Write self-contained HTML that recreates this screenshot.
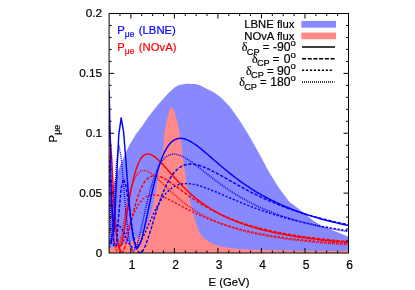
<!DOCTYPE html>
<html><head><meta charset="utf-8"><style>
html,body{margin:0;padding:0;background:#fff;}
svg{display:block;will-change:transform;opacity:0.999;font-family:"Liberation Sans",sans-serif;font-size:11.3px;}
</style></head><body>
<svg width="415" height="290" viewBox="0 0 415 290">
<rect width="415" height="290" fill="#fff"/>
<defs><clipPath id="c"><rect x="109.1" y="13.5" width="239.4" height="239.5"/></clipPath></defs>
<g clip-path="url(#c)">
<path d="M109.1,253.0 L109,200 L111.5,191 L114.3,181 L120.5,164.5 L127,150 L129.5,145 L136.1,134.1 L143.3,124.5 L148,117.5 L154.5,109 L161.7,100.4 L169,92.4 L174.8,87.3 L179.1,84.9 L186.4,83.8 L195,84 L200,85.3 L206,88.4 L213.8,92.2 L221.5,98 L229.7,106.6 L239.3,120.1 L249,135.6 L257.7,151 L259.3,153.7 L269,172 L278.6,187.5 L289.3,201.7 L294.3,205.4 L304,213.1 L313.6,220.7 L323.3,226.7 L333,230.5 L342.6,234.3 L348.5,236.7 L348.5,253.0 Z" fill="#8888ff" stroke="none"/>
<path d="M109.1,253.0 L109,247.8 L120,245.8 L130,242.3 L138,237.8 L144,231 L147,224 L150.5,215 L153,206 L155,196 L157.7,180 L159.3,169 L161.6,156 L163.2,150 L164.2,135 L167,119 L170.5,107 L173.8,109.7 L177.3,121.3 L180.5,138.6 L182.4,153 L184.6,169.3 L187.4,188.6 L189.7,200 L192.6,211.6 L195.5,221.3 L199.3,232.5 L205.1,239.2 L212.9,244.1 L222.5,247.0 L238,248.9 L260,249.9 L300,250.7 L348.5,251.0 L348.5,253.0 Z" fill="#ff8888" stroke="none"/>
<path d="M109.10,123.07 L111.52,155.30 L113.94,202.07 L116.35,234.53 L118.77,247.32 L121.19,245.07 L123.61,234.13 L126.03,219.55 L128.45,204.57 L130.86,190.97 L133.28,179.53 L135.70,170.48 L138.12,163.71 L140.54,158.97 L142.95,155.94 L145.37,154.34 L147.79,153.88 L150.21,154.32 L152.63,155.46 L155.05,157.12 L157.46,159.16 L159.88,161.49 L162.30,164.00 L164.72,166.64 L167.14,169.34 L169.55,172.07 L171.97,174.79 L174.39,177.47 L176.81,180.11 L179.23,182.68 L181.65,185.18 L184.06,187.60 L186.48,189.94 L188.90,192.19 L191.32,194.35 L193.74,196.43 L196.15,198.43 L198.57,200.34 L200.99,202.17 L203.41,203.93 L205.83,205.61 L208.25,207.21 L210.66,208.75 L213.08,210.22 L215.50,211.63 L217.92,212.98 L220.34,214.27 L222.75,215.50 L225.17,216.68 L227.59,217.81 L230.01,218.90 L232.43,219.94 L234.85,220.93 L237.26,221.88 L239.68,222.80 L242.10,223.68 L244.52,224.52 L246.94,225.33 L249.35,226.11 L251.77,226.85 L254.19,227.57 L256.61,228.26 L259.03,228.93 L261.45,229.56 L263.86,230.18 L266.28,230.77 L268.70,231.34 L271.12,231.89 L273.54,232.42 L275.95,232.93 L278.37,233.42 L280.79,233.90 L283.21,234.36 L285.63,234.80 L288.05,235.23 L290.46,235.64 L292.88,236.04 L295.30,236.43 L297.72,236.81 L300.14,237.17 L302.55,237.52 L304.97,237.86 L307.39,238.18 L309.81,238.50 L312.23,238.81 L314.65,239.11 L317.06,239.40 L319.48,239.68 L321.90,239.95 L324.32,240.22 L326.74,240.47 L329.15,240.72 L331.57,240.97 L333.99,241.20 L336.41,241.43 L338.83,241.65 L341.25,241.87 L343.66,242.08 L346.08,242.28 L348.50,242.48" fill="none" stroke="#ff0000" stroke-width="1.45" stroke-linejoin="round"/>
<path d="M109.10,183.10 L111.52,179.45 L113.94,202.72 L116.35,228.96 L118.77,246.31 L121.19,252.80 L123.61,250.75 L126.03,243.36 L128.45,233.36 L130.86,222.68 L133.28,212.47 L135.70,203.39 L138.12,195.70 L140.54,189.46 L142.95,184.59 L145.37,180.95 L147.79,178.40 L150.21,176.76 L152.63,175.88 L155.05,175.64 L157.46,175.90 L159.88,176.57 L162.30,177.56 L164.72,178.79 L167.14,180.22 L169.55,181.78 L171.97,183.44 L174.39,185.17 L176.81,186.94 L179.23,188.73 L181.65,190.52 L184.06,192.31 L186.48,194.06 L188.90,195.79 L191.32,197.49 L193.74,199.14 L196.15,200.75 L198.57,202.32 L200.99,203.84 L203.41,205.31 L205.83,206.73 L208.25,208.11 L210.66,209.44 L213.08,210.72 L215.50,211.96 L217.92,213.15 L220.34,214.30 L222.75,215.41 L225.17,216.48 L227.59,217.51 L230.01,218.50 L232.43,219.46 L234.85,220.38 L237.26,221.27 L239.68,222.12 L242.10,222.95 L244.52,223.74 L246.94,224.51 L249.35,225.25 L251.77,225.96 L254.19,226.65 L256.61,227.31 L259.03,227.95 L261.45,228.57 L263.86,229.17 L266.28,229.74 L268.70,230.30 L271.12,230.84 L273.54,231.36 L275.95,231.87 L278.37,232.35 L280.79,232.82 L283.21,233.28 L285.63,233.72 L288.05,234.15 L290.46,234.56 L292.88,234.97 L295.30,235.35 L297.72,235.73 L300.14,236.10 L302.55,236.45 L304.97,236.79 L307.39,237.13 L309.81,237.45 L312.23,237.77 L314.65,238.07 L317.06,238.37 L319.48,238.65 L321.90,238.93 L324.32,239.21 L326.74,239.47 L329.15,239.73 L331.57,239.98 L333.99,240.22 L336.41,240.46 L338.83,240.69 L341.25,240.91 L343.66,241.13 L346.08,241.34 L348.50,241.55" fill="none" stroke="#ff0000" stroke-width="1.45" stroke-linejoin="round" stroke-dasharray="3.3 1.6"/>
<path d="M109.10,230.99 L111.52,234.52 L113.94,240.92 L116.35,246.04 L118.77,247.60 L121.19,245.49 L123.61,240.67 L126.03,234.33 L128.45,227.46 L130.86,220.78 L133.28,214.71 L135.70,209.46 L138.12,205.11 L140.54,201.64 L142.95,199.00 L145.37,197.09 L147.79,195.81 L150.21,195.07 L152.63,194.78 L155.05,194.86 L157.46,195.24 L159.88,195.87 L162.30,196.69 L164.72,197.65 L167.14,198.72 L169.55,199.88 L171.97,201.10 L174.39,202.36 L176.81,203.64 L179.23,204.92 L181.65,206.21 L184.06,207.49 L186.48,208.75 L188.90,210.00 L191.32,211.21 L193.74,212.40 L196.15,213.56 L198.57,214.69 L200.99,215.79 L203.41,216.85 L205.83,217.88 L208.25,218.88 L210.66,219.84 L213.08,220.78 L215.50,221.68 L217.92,222.55 L220.34,223.39 L222.75,224.20 L225.17,224.99 L227.59,225.74 L230.01,226.47 L232.43,227.18 L234.85,227.86 L237.26,228.51 L239.68,229.15 L242.10,229.76 L244.52,230.35 L246.94,230.92 L249.35,231.47 L251.77,232.00 L254.19,232.51 L256.61,233.01 L259.03,233.49 L261.45,233.96 L263.86,234.40 L266.28,234.84 L268.70,235.26 L271.12,235.66 L273.54,236.06 L275.95,236.44 L278.37,236.81 L280.79,237.16 L283.21,237.51 L285.63,237.85 L288.05,238.17 L290.46,238.49 L292.88,238.79 L295.30,239.09 L297.72,239.38 L300.14,239.65 L302.55,239.93 L304.97,240.19 L307.39,240.44 L309.81,240.69 L312.23,240.93 L314.65,241.17 L317.06,241.39 L319.48,241.62 L321.90,241.83 L324.32,242.04 L326.74,242.24 L329.15,242.44 L331.57,242.64 L333.99,242.82 L336.41,243.01 L338.83,243.19 L341.25,243.36 L343.66,243.53 L346.08,243.69 L348.50,243.85" fill="none" stroke="#ff0000" stroke-width="1.45" stroke-linejoin="round" stroke-dasharray="2.1 1.8"/>
<path d="M109.10,170.97 L111.52,210.37 L113.94,240.27 L116.35,251.62 L118.77,248.61 L121.19,237.76 L123.61,224.05 L126.03,210.52 L128.45,198.68 L130.86,189.07 L133.28,181.77 L135.70,176.55 L138.12,173.11 L140.54,171.15 L142.95,170.35 L145.37,170.47 L147.79,171.29 L150.21,172.63 L152.63,174.35 L155.05,176.34 L157.46,178.51 L159.88,180.79 L162.30,183.13 L164.72,185.50 L167.14,187.85 L169.55,190.17 L171.97,192.44 L174.39,194.65 L176.81,196.80 L179.23,198.87 L181.65,200.87 L184.06,202.78 L186.48,204.62 L188.90,206.39 L191.32,208.08 L193.74,209.69 L196.15,211.24 L198.57,212.71 L200.99,214.12 L203.41,215.47 L205.83,216.75 L208.25,217.98 L210.66,219.16 L213.08,220.28 L215.50,221.35 L217.92,222.37 L220.34,223.35 L222.75,224.29 L225.17,225.19 L227.59,226.05 L230.01,226.87 L232.43,227.65 L234.85,228.41 L237.26,229.13 L239.68,229.83 L242.10,230.49 L244.52,231.13 L246.94,231.74 L249.35,232.33 L251.77,232.90 L254.19,233.44 L256.61,233.96 L259.03,234.47 L261.45,234.95 L263.86,235.42 L266.28,235.86 L268.70,236.30 L271.12,236.71 L273.54,237.12 L275.95,237.50 L278.37,237.88 L280.79,238.24 L283.21,238.59 L285.63,238.93 L288.05,239.25 L290.46,239.57 L292.88,239.87 L295.30,240.16 L297.72,240.45 L300.14,240.72 L302.55,240.99 L304.97,241.25 L307.39,241.50 L309.81,241.74 L312.23,241.98 L314.65,242.21 L317.06,242.43 L319.48,242.64 L321.90,242.85 L324.32,243.05 L326.74,243.25 L329.15,243.44 L331.57,243.62 L333.99,243.80 L336.41,243.98 L338.83,244.15 L341.25,244.31 L343.66,244.48 L346.08,244.63 L348.50,244.78" fill="none" stroke="#ff0000" stroke-width="1.45" stroke-linejoin="round" stroke-dasharray="1 1"/>
<path d="M109.10,89.65 L111.52,199.89 L113.94,231.93 L116.35,184.92 L118.77,134.71 L121.19,117.85 L123.61,132.22 L126.03,162.46 L128.45,194.79 L130.86,221.15 L133.28,238.46 L135.70,246.73 L138.12,247.47 L140.54,242.66 L142.95,234.20 L145.37,223.65 L147.79,212.23 L150.21,200.80 L152.63,189.93 L155.05,179.98 L157.46,171.13 L159.88,163.47 L162.30,156.99 L164.72,151.65 L167.14,147.36 L169.55,144.03 L171.97,141.57 L174.39,139.86 L176.81,138.81 L179.23,138.34 L181.65,138.35 L184.06,138.79 L186.48,139.58 L188.90,140.66 L191.32,141.99 L193.74,143.51 L196.15,145.20 L198.57,147.01 L200.99,148.92 L203.41,150.90 L205.83,152.94 L208.25,155.01 L210.66,157.11 L213.08,159.21 L215.50,161.31 L217.92,163.39 L220.34,165.46 L222.75,167.51 L225.17,169.52 L227.59,171.50 L230.01,173.44 L232.43,175.34 L234.85,177.21 L237.26,179.03 L239.68,180.80 L242.10,182.54 L244.52,184.23 L246.94,185.87 L249.35,187.47 L251.77,189.03 L254.19,190.55 L256.61,192.02 L259.03,193.45 L261.45,194.84 L263.86,196.19 L266.28,197.50 L268.70,198.78 L271.12,200.02 L273.54,201.22 L275.95,202.39 L278.37,203.52 L280.79,204.62 L283.21,205.69 L285.63,206.73 L288.05,207.74 L290.46,208.71 L292.88,209.66 L295.30,210.59 L297.72,211.48 L300.14,212.36 L302.55,213.20 L304.97,214.03 L307.39,214.83 L309.81,215.60 L312.23,216.36 L314.65,217.09 L317.06,217.81 L319.48,218.50 L321.90,219.18 L324.32,219.84 L326.74,220.48 L329.15,221.10 L331.57,221.71 L333.99,222.30 L336.41,222.87 L338.83,223.43 L341.25,223.98 L343.66,224.51 L346.08,225.03 L348.50,225.53" fill="none" stroke="#0000ff" stroke-width="1.45" stroke-linejoin="round"/>
<path d="M109.10,159.83 L111.52,194.59 L113.94,246.36 L116.35,245.62 L118.77,214.78 L121.19,187.94 L123.61,178.97 L126.03,186.06 L128.45,201.89 L130.86,219.66 L133.28,234.97 L135.70,245.76 L138.12,251.58 L140.54,252.93 L142.95,250.67 L145.37,245.78 L147.79,239.16 L150.21,231.55 L152.63,223.54 L155.05,215.55 L157.46,207.88 L159.88,200.74 L162.30,194.24 L164.72,188.44 L167.14,183.36 L169.55,178.98 L171.97,175.28 L174.39,172.21 L176.81,169.72 L179.23,167.76 L181.65,166.27 L184.06,165.21 L186.48,164.52 L188.90,164.16 L191.32,164.09 L193.74,164.28 L196.15,164.67 L198.57,165.26 L200.99,166.00 L203.41,166.88 L205.83,167.87 L208.25,168.95 L210.66,170.10 L213.08,171.32 L215.50,172.59 L217.92,173.90 L220.34,175.24 L222.75,176.59 L225.17,177.96 L227.59,179.33 L230.01,180.71 L232.43,182.08 L234.85,183.44 L237.26,184.79 L239.68,186.13 L242.10,187.45 L244.52,188.76 L246.94,190.04 L249.35,191.30 L251.77,192.54 L254.19,193.76 L256.61,194.96 L259.03,196.13 L261.45,197.27 L263.86,198.40 L266.28,199.49 L268.70,200.57 L271.12,201.62 L273.54,202.64 L275.95,203.64 L278.37,204.62 L280.79,205.57 L283.21,206.50 L285.63,207.41 L288.05,208.30 L290.46,209.17 L292.88,210.01 L295.30,210.84 L297.72,211.64 L300.14,212.42 L302.55,213.19 L304.97,213.94 L307.39,214.66 L309.81,215.37 L312.23,216.07 L314.65,216.74 L317.06,217.40 L319.48,218.04 L321.90,218.67 L324.32,219.29 L326.74,219.88 L329.15,220.47 L331.57,221.04 L333.99,221.59 L336.41,222.13 L338.83,222.66 L341.25,223.18 L343.66,223.69 L346.08,224.18 L348.50,224.66" fill="none" stroke="#0000ff" stroke-width="1.45" stroke-linejoin="round" stroke-dasharray="3.3 1.6"/>
<path d="M109.10,248.11 L111.52,238.54 L113.94,228.99 L116.35,225.45 L118.77,225.31 L121.19,227.68 L123.61,232.07 L126.03,237.43 L128.45,242.45 L130.86,246.09 L133.28,247.80 L135.70,247.49 L138.12,245.37 L140.54,241.80 L142.95,237.21 L145.37,231.98 L147.79,226.46 L150.21,220.92 L152.63,215.55 L155.05,210.51 L157.46,205.87 L159.88,201.70 L162.30,198.01 L164.72,194.81 L167.14,192.08 L169.55,189.80 L171.97,187.93 L174.39,186.45 L176.81,185.31 L179.23,184.48 L181.65,183.93 L184.06,183.63 L186.48,183.55 L188.90,183.65 L191.32,183.92 L193.74,184.34 L196.15,184.87 L198.57,185.51 L200.99,186.24 L203.41,187.04 L205.83,187.90 L208.25,188.81 L210.66,189.76 L213.08,190.74 L215.50,191.75 L217.92,192.78 L220.34,193.81 L222.75,194.85 L225.17,195.90 L227.59,196.95 L230.01,197.99 L232.43,199.02 L234.85,200.05 L237.26,201.06 L239.68,202.06 L242.10,203.05 L244.52,204.02 L246.94,204.98 L249.35,205.92 L251.77,206.84 L254.19,207.75 L256.61,208.63 L259.03,209.50 L261.45,210.36 L263.86,211.19 L266.28,212.00 L268.70,212.80 L271.12,213.58 L273.54,214.34 L275.95,215.09 L278.37,215.81 L280.79,216.52 L283.21,217.22 L285.63,217.89 L288.05,218.56 L290.46,219.20 L292.88,219.83 L295.30,220.45 L297.72,221.05 L300.14,221.63 L302.55,222.20 L304.97,222.76 L307.39,223.31 L309.81,223.84 L312.23,224.36 L314.65,224.87 L317.06,225.36 L319.48,225.84 L321.90,226.32 L324.32,226.78 L326.74,227.23 L329.15,227.67 L331.57,228.10 L333.99,228.51 L336.41,228.92 L338.83,229.32 L341.25,229.72 L343.66,230.10 L346.08,230.47 L348.50,230.84" fill="none" stroke="#0000ff" stroke-width="1.45" stroke-linejoin="round" stroke-dasharray="2.1 1.8"/>
<path d="M109.10,177.93 L111.52,243.84 L113.94,214.56 L116.35,164.75 L118.77,145.24 L121.19,157.59 L123.61,185.32 L126.03,213.83 L128.45,235.35 L130.86,247.58 L133.28,251.29 L135.70,248.46 L138.12,241.26 L140.54,231.54 L142.95,220.74 L145.37,209.85 L147.79,199.53 L150.21,190.17 L152.63,181.95 L155.05,174.94 L157.46,169.13 L159.88,164.44 L162.30,160.77 L164.72,158.03 L167.14,156.09 L169.55,154.85 L171.97,154.22 L174.39,154.09 L176.81,154.40 L179.23,155.06 L181.65,156.02 L184.06,157.22 L186.48,158.61 L188.90,160.15 L191.32,161.82 L193.74,163.57 L196.15,165.39 L198.57,167.26 L200.99,169.16 L203.41,171.06 L205.83,172.97 L208.25,174.88 L210.66,176.76 L213.08,178.63 L215.50,180.46 L217.92,182.27 L220.34,184.04 L222.75,185.77 L225.17,187.46 L227.59,189.11 L230.01,190.72 L232.43,192.29 L234.85,193.81 L237.26,195.29 L239.68,196.73 L242.10,198.13 L244.52,199.49 L246.94,200.81 L249.35,202.09 L251.77,203.33 L254.19,204.53 L256.61,205.70 L259.03,206.83 L261.45,207.92 L263.86,208.99 L266.28,210.02 L268.70,211.01 L271.12,211.98 L273.54,212.92 L275.95,213.83 L278.37,214.72 L280.79,215.57 L283.21,216.40 L285.63,217.21 L288.05,217.99 L290.46,218.75 L292.88,219.48 L295.30,220.20 L297.72,220.89 L300.14,221.56 L302.55,222.22 L304.97,222.85 L307.39,223.47 L309.81,224.07 L312.23,224.65 L314.65,225.22 L317.06,225.77 L319.48,226.30 L321.90,226.82 L324.32,227.33 L326.74,227.82 L329.15,228.30 L331.57,228.77 L333.99,229.22 L336.41,229.66 L338.83,230.09 L341.25,230.51 L343.66,230.92 L346.08,231.32 L348.50,231.70" fill="none" stroke="#0000ff" stroke-width="1.45" stroke-linejoin="round" stroke-dasharray="1 1"/>
</g>
<g stroke="#000" stroke-width="1" fill="none">
<path d="M119.98,253.0 v-2.5 M119.98,13.5 v2.5"/>
<path d="M130.86,253.0 v-5 M130.86,13.5 v5"/>
<path d="M141.75,253.0 v-2.5 M141.75,13.5 v2.5"/>
<path d="M152.63,253.0 v-2.5 M152.63,13.5 v2.5"/>
<path d="M163.51,253.0 v-2.5 M163.51,13.5 v2.5"/>
<path d="M174.39,253.0 v-5 M174.39,13.5 v5"/>
<path d="M185.27,253.0 v-2.5 M185.27,13.5 v2.5"/>
<path d="M196.15,253.0 v-2.5 M196.15,13.5 v2.5"/>
<path d="M207.04,253.0 v-2.5 M207.04,13.5 v2.5"/>
<path d="M217.92,253.0 v-5 M217.92,13.5 v5"/>
<path d="M228.80,253.0 v-2.5 M228.80,13.5 v2.5"/>
<path d="M239.68,253.0 v-2.5 M239.68,13.5 v2.5"/>
<path d="M250.56,253.0 v-2.5 M250.56,13.5 v2.5"/>
<path d="M261.45,253.0 v-5 M261.45,13.5 v5"/>
<path d="M272.33,253.0 v-2.5 M272.33,13.5 v2.5"/>
<path d="M283.21,253.0 v-2.5 M283.21,13.5 v2.5"/>
<path d="M294.09,253.0 v-2.5 M294.09,13.5 v2.5"/>
<path d="M304.97,253.0 v-5 M304.97,13.5 v5"/>
<path d="M315.85,253.0 v-2.5 M315.85,13.5 v2.5"/>
<path d="M326.74,253.0 v-2.5 M326.74,13.5 v2.5"/>
<path d="M337.62,253.0 v-2.5 M337.62,13.5 v2.5"/>
<path d="M109.1,241.03 h2.5 M348.5,241.03 h-2.5"/>
<path d="M109.1,229.05 h2.5 M348.5,229.05 h-2.5"/>
<path d="M109.1,217.07 h2.5 M348.5,217.07 h-2.5"/>
<path d="M109.1,205.10 h2.5 M348.5,205.10 h-2.5"/>
<path d="M109.1,193.12 h5 M348.5,193.12 h-5"/>
<path d="M109.1,181.15 h2.5 M348.5,181.15 h-2.5"/>
<path d="M109.1,169.18 h2.5 M348.5,169.18 h-2.5"/>
<path d="M109.1,157.20 h2.5 M348.5,157.20 h-2.5"/>
<path d="M109.1,145.23 h2.5 M348.5,145.23 h-2.5"/>
<path d="M109.1,133.25 h5 M348.5,133.25 h-5"/>
<path d="M109.1,121.28 h2.5 M348.5,121.28 h-2.5"/>
<path d="M109.1,109.30 h2.5 M348.5,109.30 h-2.5"/>
<path d="M109.1,97.32 h2.5 M348.5,97.32 h-2.5"/>
<path d="M109.1,85.35 h2.5 M348.5,85.35 h-2.5"/>
<path d="M109.1,73.38 h5 M348.5,73.38 h-5"/>
<path d="M109.1,61.40 h2.5 M348.5,61.40 h-2.5"/>
<path d="M109.1,49.43 h2.5 M348.5,49.43 h-2.5"/>
<path d="M109.1,37.45 h2.5 M348.5,37.45 h-2.5"/>
<path d="M109.1,25.48 h2.5 M348.5,25.48 h-2.5"/>
<rect x="109.1" y="13.5" width="239.4" height="239.5"/>
</g>
<g fill="#000" stroke="#000" stroke-width="0.2">
<text x="132.1" y="268.8" text-anchor="middle" font-size="12">1</text>
<text x="175.6" y="268.8" text-anchor="middle" font-size="12">2</text>
<text x="219.1" y="268.8" text-anchor="middle" font-size="12">3</text>
<text x="262.6" y="268.8" text-anchor="middle" font-size="12">4</text>
<text x="306.2" y="268.8" text-anchor="middle" font-size="12">5</text>
<text x="349.7" y="268.8" text-anchor="middle" font-size="12">6</text>
<text x="102.2" y="256.6" text-anchor="end" font-size="11.8">0</text>
<text x="102.2" y="196.7" text-anchor="end" font-size="11.8">0.05</text>
<text x="102.2" y="136.8" text-anchor="end" font-size="11.8">0.1</text>
<text x="102.2" y="77.0" text-anchor="end" font-size="11.8">0.15</text>
<text x="102.2" y="17.1" text-anchor="end" font-size="11.8">0.2</text>
<text x="229" y="286" text-anchor="middle">E (GeV)</text>
<text transform="translate(57,133.5) rotate(-90)" text-anchor="middle">P<tspan dy="3" font-size="9">μe</tspan></text>
<text x="294.5" y="28.299999999999997" text-anchor="end">LBNE flux</text><rect x="301.4" y="20.9" width="34.6" height="6.8" fill="#8888ff" stroke="none"/>
<text x="294.5" y="39.9" text-anchor="end">NOvA flux</text><rect x="301.4" y="32.5" width="34.6" height="6.8" fill="#ff8888" stroke="none"/>
<text x="241.8" y="51.300000000000004" font-family="Liberation Serif" font-size="12">δ</text><text x="246.8" y="54.800000000000004" font-size="9.2">CP</text><text x="262.7" y="51.300000000000004" font-size="11.3">=</text><text x="290.6" y="51.300000000000004" font-size="12.2" text-anchor="end">-90</text><text x="290.6" y="46.00000000000001" font-size="9.6">o</text>
<path d="M302,47.1 H335" stroke="#000" stroke-width="1.5" fill="none"/>
<text x="251.9" y="62.900000000000006" font-family="Liberation Serif" font-size="12">δ</text><text x="256.9" y="66.4" font-size="9.2">CP</text><text x="272.8" y="62.900000000000006" font-size="11.3">=</text><text x="290.6" y="62.900000000000006" font-size="12.2" text-anchor="end">0</text><text x="290.6" y="57.60000000000001" font-size="9.6">o</text>
<path d="M302,58.7 H335" stroke="#000" stroke-width="1.5" stroke-dasharray="4.1 1.6" fill="none"/>
<text x="246.0" y="74.5" font-family="Liberation Serif" font-size="12">δ</text><text x="251.0" y="78.0" font-size="9.2">CP</text><text x="266.9" y="74.5" font-size="11.3">=</text><text x="290.6" y="74.5" font-size="12.2" text-anchor="end">90</text><text x="290.6" y="69.2" font-size="9.6">o</text>
<path d="M302,70.3 H332.2" stroke="#000" stroke-width="1.5" stroke-dasharray="2.2 1.75" fill="none"/>
<text x="239.2" y="86.10000000000001" font-family="Liberation Serif" font-size="12">δ</text><text x="244.2" y="89.60000000000001" font-size="9.2">CP</text><text x="260.09999999999997" y="86.10000000000001" font-size="11.3">=</text><text x="290.6" y="86.10000000000001" font-size="12.2" text-anchor="end">180</text><text x="290.6" y="80.80000000000001" font-size="9.6">o</text>
<path d="M302,81.9 H334.5" stroke="#000" stroke-width="1.5" stroke-dasharray="1 1" fill="none"/>
</g>
<text x="117.3" y="33.6" fill="#0000ff" stroke="#0000ff" stroke-width="0.2">P<tspan dy="3" font-size="8.5">μe</tspan><tspan dy="-3" dx="1.2"> (LBNE)</tspan></text>
<text x="117.3" y="51.4" fill="#ff0000" stroke="#ff0000" stroke-width="0.2">P<tspan dy="3" font-size="8.5">μe</tspan><tspan dy="-3" dx="1.2"> (NOvA)</tspan></text>
</svg>
</body></html>
